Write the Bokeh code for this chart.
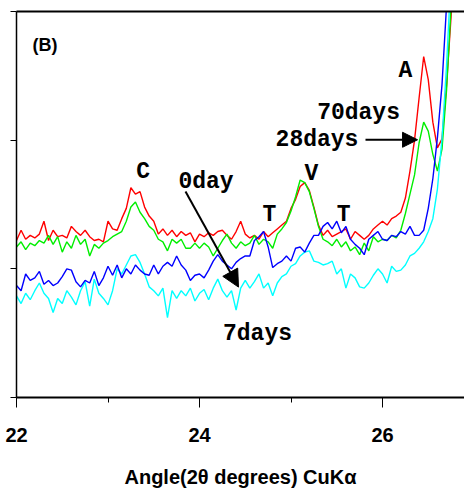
from bokeh.plotting import figure
from bokeh.models import Range1d, FixedTicker, LinearAxis, Label, Arrow, NormalHead
from bokeh.embed import file_html
from bokeh.resources import INLINE

# 2-theta sampling positions (degrees)
two_theta = [22.00, 22.05, 22.10, 22.15, 22.20, 22.25, 22.30, 22.35, 22.40, 22.45,
             22.50, 22.55, 22.60, 22.65, 22.70, 22.75, 22.80, 22.85, 22.90, 22.95,
             23.00, 23.05, 23.10, 23.15, 23.20, 23.25, 23.30, 23.35, 23.40, 23.45,
             23.50, 23.55, 23.60, 23.65, 23.70, 23.75, 23.80, 23.85, 23.90, 23.95,
             24.00, 24.05, 24.10, 24.15, 24.20, 24.25, 24.30, 24.35, 24.40, 24.45,
             24.50, 24.55, 24.60, 24.65, 24.70, 24.75, 24.80, 24.85, 24.90, 24.95,
             25.00, 25.05, 25.10, 25.15, 25.20, 25.25, 25.30, 25.35, 25.40, 25.45,
             25.50, 25.55, 25.60, 25.65, 25.70, 25.75, 25.80, 25.85, 25.90, 25.95,
             26.00, 26.05, 26.10, 26.15, 26.20, 26.25, 26.30, 26.35, 26.40, 26.45,
             26.50, 26.55, 26.60, 26.65, 26.70, 26.75, 26.80, 26.85, 26.90]

# intensities (arbitrary units)
days70_red = [122, 130, 123, 126, 124, 127, 137, 122, 130, 125,
              126, 124, 133, 129, 126, 130, 125, 122, 123, 121,
              137, 131, 130, 139, 147, 163, 158, 160, 148, 141,
              137, 127, 131, 126, 130, 125, 129, 126, 128, 121,
              127, 125, 128, 126, 129, 130, 126, 123, 129, 137,
              127, 124, 126, 123, 129, 125, 128, 131, 134, 137,
              147, 154, 164, 167, 161, 148, 134, 126, 130, 125,
              127, 129, 131, 123, 129, 126, 123, 126, 131, 134,
              137, 134, 139, 141, 144, 155, 176, 200, 233, 265,
              247, 214, 194, 201, 243, 297, 370, 440, 500]

days28_green = [117, 121, 115, 120, 118, 122, 120, 126, 119, 125,
                113, 121, 116, 126, 119, 123, 110, 119, 116, 120,
                122, 125, 127, 129, 137, 148, 152, 144, 139, 133,
                130, 123, 121, 114, 123, 120, 123, 116, 116, 120,
                116, 120, 117, 110, 116, 122, 127, 120, 116, 121,
                118, 120, 126, 119, 123, 121, 116, 127, 131, 136,
                145, 156, 169, 167, 160, 147, 133, 123, 121, 118,
                123, 117, 121, 114, 117, 111, 120, 114, 125, 121,
                123, 122, 126, 124, 130, 143, 158, 173, 198, 214,
                207, 189, 176, 193, 239, 305, 375, 445, 500]

day0_blue = [87, 83, 96, 91, 93, 98, 88, 91, 87, 89,
             94, 100, 99, 90, 86, 91, 89, 98, 87, 93,
             102, 95, 103, 93, 100, 96, 103, 99, 96, 95,
             103, 96, 102, 105, 102, 110, 103, 99, 91, 95,
             96, 93, 99, 106, 111, 106, 103, 100, 105, 108,
             110, 110, 122, 125, 129, 117, 101, 104, 106, 110,
             106, 116, 117, 113, 120, 126, 126, 133, 136, 131,
             137, 128, 133, 123, 119, 116, 111, 123, 126, 129,
             123, 122, 126, 125, 129, 127, 133, 126, 126, 130,
             147, 170, 202, 243, 305, 380, 450, 500, 520]

days7_cyan = [79, 73, 81, 76, 83, 89, 81, 77, 66, 77,
              73, 83, 78, 72, 83, 90, 71, 92, 81, 77,
              72, 83, 100, 96, 103, 110, 111, 105, 96, 86,
              83, 79, 85, 62, 83, 77, 83, 79, 85, 75,
              81, 84, 76, 85, 92, 83, 78, 83, 68, 85,
              91, 85, 90, 96, 85, 89, 79, 89, 94, 96,
              102, 104, 110, 113, 114, 106, 105, 103, 104, 106,
              96, 100, 85, 96, 93, 86, 85, 89, 95, 100,
              96, 89, 102, 98, 99, 103, 110, 112, 116, 121,
              129, 139, 162, 201, 258, 330, 400, 460, 510]

x_ticks = [22, 24, 26]
x_minor_ticks = [23, 25]
y_ticks = [0, 100, 200, 300]

p = figure(width=464, height=490, output_backend="svg", toolbar_location=None,
           x_range=Range1d(22, 26.896), y_range=Range1d(0, 300),
           min_border_left=16, min_border_right=0, min_border_top=11, min_border_bottom=91)
p.grid.visible = False
p.outline_line_color = None
p.background_fill_color = "white"
p.border_fill_color = "white"

# x axis
xa = p.xaxis[0]
xa.ticker = FixedTicker(ticks=x_ticks, minor_ticks=x_minor_ticks)
xa.axis_line_width = 2
xa.axis_line_color = "black"
xa.major_tick_out = 10
xa.major_tick_in = 0
xa.minor_tick_out = 5
xa.minor_tick_in = 0
xa.major_tick_line_color = "black"
xa.minor_tick_line_color = "black"
xa.major_label_text_font = "Liberation Sans"
xa.major_label_text_font_style = "bold"
xa.major_label_text_font_size = "20px"
xa.major_label_text_color = "black"
xa.major_label_standoff = 20
xa.axis_label = "Angle(2θ degrees) CuKα"
xa.axis_label_text_font = "Liberation Sans"
xa.axis_label_text_font_style = "bold"
xa.axis_label_text_font_size = "20px"
xa.axis_label_text_color = "black"
xa.axis_label_standoff = 21

# y axis (ticks only, labels not drawn)
ya = p.yaxis[0]
ya.ticker = FixedTicker(ticks=y_ticks, minor_ticks=[])
ya.axis_line_width = 1.5
ya.axis_line_color = "black"
ya.major_tick_out = 6
ya.major_tick_in = 0
ya.major_tick_line_color = "black"
ya.major_label_text_font_size = "1px"
ya.major_label_text_color = None
ya.major_label_standoff = 0

# top frame line
top = LinearAxis(ticker=FixedTicker(ticks=[]), axis_line_width=2, axis_line_color="black",
                 major_tick_line_color=None, minor_tick_line_color=None,
                 major_label_text_font_size="1px", major_label_text_color=None,
                 major_label_standoff=0, major_tick_out=0, minor_tick_out=0)
p.add_layout(top, "above")

p.line(two_theta, days70_red, line_color="#FF0000", line_width=1.4)
p.line(two_theta, days28_green, line_color="#00EE00", line_width=1.4)
p.line(two_theta, days7_cyan, line_color="#00FFFF", line_width=1.4)
p.line(two_theta, day0_blue, line_color="#0000FF", line_width=1.4)

mono = "Liberation Mono"
def lab(x, y, t, align="center"):
    p.add_layout(Label(x=x, y=y, text=t, text_font=mono, text_font_size="23px",
                       text_font_style="bold",
                       text_align=align, text_baseline="alphabetic", text_color="black"))

lab(23.383, 175.5, "C")
lab(24.071, 167.7, "0day")
lab(24.765, 141.5, "T")
lab(25.224, 173.9, "V")
lab(25.574, 141.5, "T")
lab(26.251, 253.6, "A")
lab(25.738, 221.1, "70days")
lab(25.284, 200.2, "28days")
lab(24.634, 49.4, "7days")

p.add_layout(Label(x=22.175, y=273.7, text="(B)", text_font="Liberation Sans",
                   text_font_style="bold", text_font_size="18px", text_align="left",
                   text_baseline="alphabetic", text_color="black"))

p.add_layout(Arrow(end=NormalHead(size=15, fill_color="black", line_color="black"),
                   x_start=25.814, y_start=200.3, x_end=26.383, y_end=200.3,
                   line_width=2, line_color="black"))
p.add_layout(Arrow(end=NormalHead(size=17, fill_color="black", line_color="black"),
                   x_start=23.847, y_start=160.1, x_end=24.426, y_end=85.8,
                   line_width=2, line_color="black"))

open("out.html", "w").write(file_html(p, INLINE))
